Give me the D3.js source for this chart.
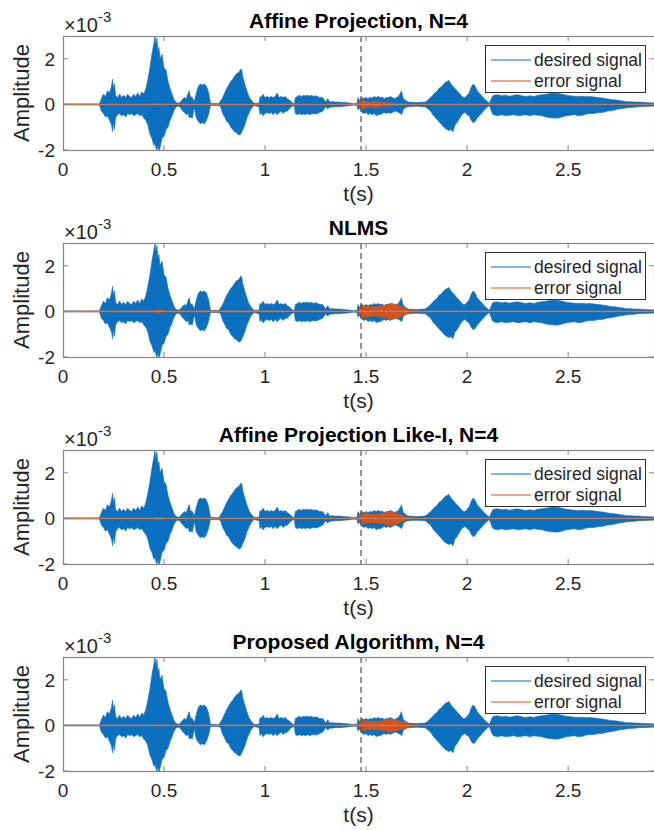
<!DOCTYPE html>
<html>
<head>
<meta charset="utf-8">
<script src="https://cdn.jsdelivr.net/npm/d3@7"></script>
<style>
  body { margin: 0; background: #fff; }
  svg { display: block; font-family: "Liberation Sans", Arial, sans-serif; }
</style>
</head>
<body>
<div id="chart"></div>
<script>
// Panel titles
const titles = [
  "Affine Projection, N=4",
  "NLMS",
  "Affine Projection Like-I, N=4",
  "Proposed Algorithm, N=4"
];

// Desired signal envelope (x10^-3)
const sigT = [
  0.00, 0.18, 0.19, 0.20, 0.21, 0.22, 0.23, 0.24, 0.245, 0.25, 0.255, 0.26, 0.27, 0.28, 0.29, 0.30,
  0.31, 0.32, 0.33, 0.34, 0.35, 0.36, 0.37, 0.38, 0.39, 0.40, 0.41, 0.42, 0.43, 0.44, 0.45, 0.455,
  0.46, 0.465, 0.47, 0.475, 0.48, 0.49, 0.50, 0.51, 0.52, 0.53, 0.54, 0.55, 0.56, 0.575, 0.59, 0.60,
  0.61, 0.62, 0.625, 0.63, 0.64, 0.65, 0.66, 0.67, 0.68, 0.69, 0.70, 0.71, 0.72, 0.73, 0.77, 0.78,
  0.79, 0.80, 0.81, 0.82, 0.83, 0.84, 0.85, 0.86, 0.87, 0.88, 0.885, 0.89, 0.90, 0.91, 0.92, 0.93,
  0.945, 0.97, 0.975, 0.98, 0.99, 1.00, 1.01, 1.02, 1.03, 1.04, 1.05, 1.06, 1.07, 1.08, 1.09, 1.10,
  1.11, 1.12, 1.13, 1.145, 1.15, 1.16, 1.17, 1.18, 1.19, 1.20, 1.21, 1.22, 1.23, 1.24, 1.25, 1.26,
  1.27, 1.285, 1.30, 1.31, 1.32, 1.33, 1.35, 1.37, 1.39, 1.41, 1.44, 1.455, 1.46, 1.47, 1.48, 1.49,
  1.50, 1.51, 1.52, 1.53, 1.54, 1.55, 1.56, 1.57, 1.58, 1.59, 1.60, 1.61, 1.62, 1.63, 1.64, 1.65,
  1.66, 1.67, 1.675, 1.68, 1.685, 1.70, 1.71, 1.75, 1.79, 1.80, 1.82, 1.83, 1.84, 1.85, 1.86, 1.87,
  1.88, 1.89, 1.90, 1.91, 1.92, 1.93, 1.94, 1.95, 1.96, 1.97, 1.98, 1.99, 2.00, 2.01, 2.02, 2.03,
  2.04, 2.05, 2.06, 2.07, 2.08, 2.09, 2.11, 2.125, 2.13, 2.15, 2.17, 2.19, 2.21, 2.23, 2.25, 2.27,
  2.29, 2.31, 2.33, 2.35, 2.37, 2.39, 2.41, 2.43, 2.45, 2.47, 2.49, 2.51, 2.53, 2.55, 2.57, 2.59,
  2.61, 2.63, 2.65, 2.67, 2.69, 2.71, 2.73, 2.75, 2.77, 2.79, 2.81, 2.83, 2.85, 2.88, 2.91, 2.95];
const sigUp = [
  0.02, 0.02, 0.25, 0.45, 0.35, 0.6, 0.5, 0.8, 1.1, 0.7, 0.9, 0.4, 0.3, 0.45, 0.3, 0.4,
  0.3, 0.45, 0.35, 0.3, 0.45, 0.35, 0.5, 0.35, 0.55, 0.45, 0.7, 1.1, 1.6, 2.2, 2.7, 3.0,
  2.6, 2.9, 2.3, 2.5, 2.0, 2.2, 1.6, 1.5, 1.0, 0.7, 0.45, 0.2, 0.08, 0.05, 0.2, 0.3,
  0.25, 0.5, 0.6, 0.35, 0.3, 0.12, 0.5, 0.8, 0.9, 0.85, 0.9, 0.8, 0.55, 0.05, 0.03, 0.15,
  0.3, 0.5, 0.7, 0.85, 1.0, 1.1, 1.25, 1.35, 1.4, 1.55, 1.5, 1.2, 0.9, 0.6, 0.35, 0.2,
  0.05, 0.05, 0.35, 0.3, 0.45, 0.3, 0.35, 0.3, 0.35, 0.3, 0.35, 0.5, 0.3, 0.35, 0.3, 0.35,
  0.25, 0.2, 0.1, 0.02, 0.3, 0.35, 0.4, 0.35, 0.4, 0.38, 0.4, 0.37, 0.4, 0.35, 0.38, 0.35,
  0.3, 0.3, 0.1, 0.25, 0.1, 0.12, 0.1, 0.1, 0.08, 0.07, 0.03, 0.05, 0.3, 0.15, 0.3, 0.25,
  0.3, 0.25, 0.3, 0.28, 0.35, 0.3, 0.35, 0.3, 0.32, 0.25, 0.3, 0.3, 0.35, 0.3, 0.25, 0.3,
  0.35, 0.5, 0.6, 0.4, 0.25, 0.15, 0.1, 0.08, 0.1, 0.15, 0.3, 0.4, 0.5, 0.55, 0.7, 0.75,
  0.85, 0.95, 1.0, 1.05, 0.9, 0.8, 0.7, 0.6, 0.5, 0.4, 0.3, 0.3, 0.4, 0.5, 0.75, 0.9,
  0.8, 0.6, 0.5, 0.4, 0.3, 0.2, 0.05, 0.35, 0.4, 0.42, 0.38, 0.4, 0.36, 0.4, 0.42, 0.38,
  0.35, 0.38, 0.35, 0.4, 0.42, 0.45, 0.48, 0.5, 0.48, 0.45, 0.4, 0.38, 0.36, 0.35, 0.36, 0.34,
  0.35, 0.32, 0.3, 0.28, 0.25, 0.22, 0.2, 0.18, 0.15, 0.12, 0.12, 0.1, 0.1, 0.08, 0.07, 0.05];
const sigLo = [
  -0.02, -0.02, -0.3, -0.4, -0.55, -0.5, -0.7, -0.9, -1.2, -0.8, -1.1, -0.6, -0.45, -0.4, -0.5, -0.45,
  -0.55, -0.4, -0.45, -0.4, -0.5, -0.45, -0.4, -0.5, -0.45, -0.6, -0.7, -0.9, -1.3, -1.5, -1.8, -1.7,
  -1.9, -2.0, -1.8, -2.1, -1.9, -1.5, -1.4, -1.1, -1.0, -0.7, -0.5, -0.25, -0.1, -0.08, -0.25, -0.35,
  -0.45, -0.4, -0.6, -0.55, -0.6, -0.15, -0.6, -0.75, -0.85, -0.8, -0.85, -0.7, -0.45, -0.05, -0.05, -0.1,
  -0.4, -0.55, -0.75, -0.8, -1.0, -1.1, -1.2, -1.25, -1.35, -1.3, -1.2, -1.1, -0.9, -0.6, -0.4, -0.2,
  -0.05, -0.1, -0.45, -0.35, -0.5, -0.4, -0.35, -0.4, -0.35, -0.45, -0.35, -0.45, -0.35, -0.3, -0.4, -0.3,
  -0.3, -0.2, -0.1, -0.05, -0.4, -0.45, -0.4, -0.45, -0.42, -0.45, -0.4, -0.45, -0.42, -0.4, -0.42, -0.4,
  -0.35, -0.3, -0.1, -0.2, -0.12, -0.12, -0.1, -0.1, -0.08, -0.07, -0.03, -0.05, -0.25, -0.15, -0.35, -0.4,
  -0.35, -0.45, -0.4, -0.45, -0.4, -0.5, -0.45, -0.45, -0.4, -0.35, -0.4, -0.35, -0.4, -0.35, -0.3, -0.3,
  -0.35, -0.4, -0.45, -0.35, -0.2, -0.12, -0.1, -0.08, -0.1, -0.15, -0.3, -0.45, -0.55, -0.65, -0.75, -0.85,
  -0.95, -1.05, -1.1, -1.15, -1.1, -1.2, -0.9, -0.8, -0.65, -0.5, -0.4, -0.35, -0.45, -0.5, -0.7, -0.8,
  -0.75, -0.6, -0.5, -0.4, -0.3, -0.2, -0.05, -0.4, -0.45, -0.5, -0.45, -0.5, -0.48, -0.45, -0.5, -0.48,
  -0.45, -0.5, -0.45, -0.48, -0.5, -0.55, -0.58, -0.6, -0.6, -0.55, -0.5, -0.48, -0.45, -0.5, -0.48, -0.42,
  -0.4, -0.4, -0.35, -0.35, -0.3, -0.28, -0.25, -0.2, -0.18, -0.15, -0.14, -0.12, -0.1, -0.09, -0.08, -0.05];

// Error signal envelope (x10^-3), one per panel
const errT = [0, 0.44, 0.47, 0.50, 1.45, 1.465, 1.475, 1.49, 1.52, 1.55, 1.58, 1.61, 1.63, 1.66, 1.69, 1.72, 1.76, 2.95];
const errAmp = [
  [0.02, 0.02, 0.03, 0.02, 0.02, 0.05, 0.28, 0.15, 0.10, 0.14, 0.08, 0.08, 0.06, 0.04, 0.03, 0.02, 0.02, 0.02],
  [0.02, 0.03, 0.06, 0.03, 0.02, 0.05, 0.32, 0.25, 0.22, 0.20, 0.25, 0.32, 0.35, 0.28, 0.15, 0.05, 0.02, 0.02],
  [0.02, 0.02, 0.05, 0.02, 0.02, 0.05, 0.28, 0.22, 0.20, 0.20, 0.22, 0.30, 0.30, 0.22, 0.10, 0.04, 0.02, 0.02],
  [0.02, 0.02, 0.03, 0.02, 0.02, 0.05, 0.25, 0.20, 0.18, 0.18, 0.20, 0.28, 0.28, 0.20, 0.15, 0.04, 0.02, 0.02]
];

const xTicks = [0, 0.5, 1, 1.5, 2, 2.5];
const xTickLabels = ["0", "0.5", "1", "1.5", "2", "2.5"];
const yTicks = [-2, 0, 2];
const markerT = 1.475;
const legendLabels = ["desired signal", "error signal"];

const W = 654, H = 830;
const left = 63, right = 654;
const panelTop = 36, panelStep = 207, panelH = 114;
const blue = "#0b70bf", orange = "#d95319", axisCol = "#858585", textCol = "#262626";

const svg = d3.select("#chart").append("svg")
  .attr("width", W).attr("height", H);

const x = d3.scaleLinear().domain([0, 2.925]).range([left, right]);
const y = d3.scaleLinear().domain([-2, 3]).range([panelH, 0]);

const sig = sigT.map((t, i) => ({ t, up: sigUp[i], lo: sigLo[i] }));

const sigArea = d3.area()
  .x(d => x(d.t)).y0(d => y(d.lo)).y1(d => y(d.up));

svg.append("defs").append("clipPath").attr("id", "plotClip")
  .append("rect").attr("x", left).attr("y", 0).attr("width", right - left).attr("height", panelH);

titles.forEach((title, p) => {
  const g = svg.append("g").attr("transform", `translate(0,${panelTop + p * panelStep})`);
  const plot = g.append("g").attr("clip-path", "url(#plotClip)");

  // desired signal
  plot.append("path").datum(sig)
    .attr("d", sigArea)
    .attr("fill", blue).attr("stroke", blue).attr("stroke-width", 0.6);

  // error signal
  const err = errT.map((t, i) => ({ t, up: errAmp[p][i], lo: -errAmp[p][i] }));
  plot.append("path").datum(err)
    .attr("d", sigArea)
    .attr("fill", orange).attr("stroke", orange).attr("stroke-width", 0.5).attr("opacity", 0.95);
  plot.append("line")
    .attr("x1", left).attr("x2", right).attr("y1", y(0)).attr("y2", y(0))
    .attr("stroke", "#c98a6a").attr("stroke-width", 0.8);

  // dashed marker
  g.append("line")
    .attr("x1", x(markerT)).attr("x2", x(markerT)).attr("y1", 0).attr("y2", panelH)
    .attr("stroke", "#505050").attr("stroke-width", 1.2).attr("stroke-dasharray", "6,4");

  // axes box
  g.append("rect")
    .attr("x", left + 0.5).attr("y", 0.5).attr("width", right - left).attr("height", panelH)
    .attr("fill", "none").attr("stroke", axisCol).attr("stroke-width", 1.2);

  // x ticks (bottom and top, inward)
  g.selectAll("line.xt").data(xTicks.slice(1)).join("line")
    .attr("x1", d => x(d)).attr("x2", d => x(d)).attr("y1", panelH).attr("y2", panelH - 5)
    .attr("stroke", axisCol);
  g.selectAll("line.xtt").data(xTicks.slice(1)).join("line")
    .attr("x1", d => x(d)).attr("x2", d => x(d)).attr("y1", 0).attr("y2", 5)
    .attr("stroke", axisCol);
  g.selectAll("line.yt").data(yTicks).join("line")
    .attr("x1", left).attr("x2", left + 5).attr("y1", d => y(d)).attr("y2", d => y(d))
    .attr("stroke", axisCol);
  g.selectAll("line.ytr").data(yTicks).join("line")
    .attr("x1", right - 5).attr("x2", right).attr("y1", d => y(d)).attr("y2", d => y(d))
    .attr("stroke", axisCol);

  // tick labels
  g.selectAll("text.xl").data(xTicks).join("text")
    .attr("x", d => x(d)).attr("y", panelH + 26)
    .attr("text-anchor", "middle").attr("font-size", 19).attr("fill", textCol)
    .text((d, i) => xTickLabels[i]);
  g.selectAll("text.yl").data(yTicks).join("text")
    .attr("x", left - 8).attr("y", d => y(d) + 7)
    .attr("text-anchor", "end").attr("font-size", 19).attr("fill", textCol)
    .text(d => d);

  // exponent
  const ex = g.append("text").attr("x", 64).attr("y", -4).attr("font-size", 20).attr("fill", textCol);
  ex.append("tspan").text("\u00d710");
  ex.append("tspan").attr("dy", -10).attr("font-size", 15).text("-3");

  // labels
  g.append("text")
    .attr("x", (left + right) / 2).attr("y", panelH + 51)
    .attr("text-anchor", "middle").attr("font-size", 21).attr("fill", textCol)
    .text("t(s)");
  g.append("text")
    .attr("transform", `translate(29,${panelH / 2}) rotate(-90)`)
    .attr("text-anchor", "middle").attr("font-size", 22).attr("fill", textCol)
    .text("Amplitude");
  g.append("text")
    .attr("x", (left + right) / 2).attr("y", -8)
    .attr("text-anchor", "middle").attr("font-size", 21).attr("font-weight", "bold").attr("fill", "#000")
    .text(title);

  // legend
  const lg = g.append("g").attr("transform", "translate(485,9)");
  lg.append("rect").attr("x", 0.5).attr("y", 0.5).attr("width", 160).attr("height", 47)
    .attr("fill", "#fff").attr("stroke", "#303030").attr("stroke-width", 1);
  [blue, orange].forEach((c, i) => {
    lg.append("line").attr("x1", 6).attr("x2", 46).attr("y1", 15 + i * 21).attr("y2", 15 + i * 21)
      .attr("stroke", c).attr("stroke-width", 1.2);
    lg.append("text").attr("x", 49).attr("y", 21 + i * 21)
      .attr("font-size", 17.5).attr("fill", textCol).text(legendLabels[i]);
  });
});
</script>
</body>
</html>
